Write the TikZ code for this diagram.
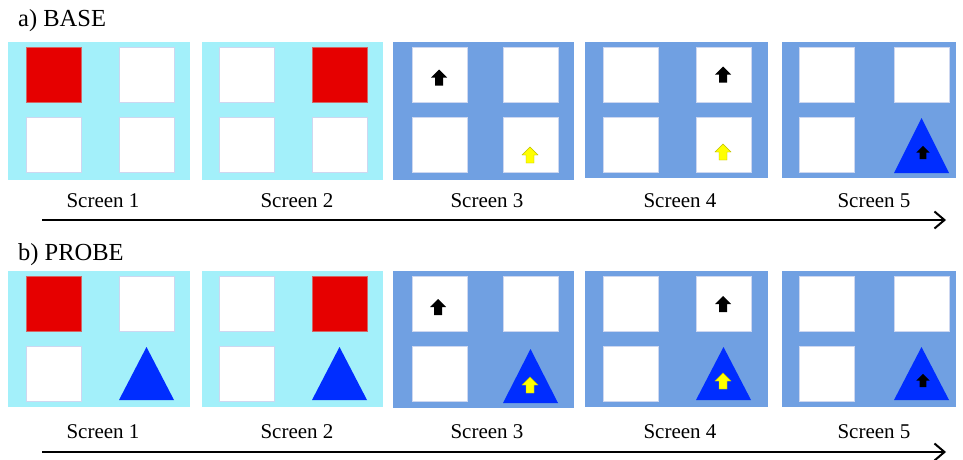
\documentclass[tikz,border=0pt]{standalone}
\usepackage{fontspec}
\setmainfont{Liberation Serif}
\usetikzlibrary{arrows.meta}
\definecolor{cyanbg}{RGB}{163,240,250}
\definecolor{bluebg}{RGB}{112,160,226}
\definecolor{redsq}{RGB}{230,0,0}
\definecolor{tricol}{RGB}{0,45,255}
\definecolor{yel}{RGB}{255,255,0}
\definecolor{sqedge}{RGB}{205,215,240}
\newcommand\mycard[4]{\node[#1] (#2) at (#3,#4) {};}
\begin{document}
\begin{tikzpicture}[x=1pt,y=-1pt,
  panel/.style={anchor=north west, inner sep=0pt, outer sep=0pt, draw=none},
  panelA/.style={panel, fill=cyanbg},
  panelB/.style={panel, fill=bluebg},
  card/.style={anchor=north west, inner sep=0pt, outer sep=0pt, minimum width=55pt, minimum height=55pt, fill=white, draw=sqedge, line width=0.6pt},
  redcard/.style={card, fill=redsq, draw=redsq!80!black!60},
  tri/.style={fill=tricol},
  title/.style={font=\fontsize{24.5}{28}\selectfont, anchor=base west, inner sep=0pt},
  lab/.style={font=\fontsize{21}{25}\selectfont, anchor=base, inner sep=0pt},
  timeline/.style={line width=2.8pt, -{Straight Barb[length=10pt,width=17pt,line width=2pt]}},
  blackarr/.style={fill=black},
  yelarr/.style={fill=yel, draw=yel!75!black, line width=0.4pt},
  uparr/.pic={\path[pic actions] (0,-8) -- (8,0) -- (4,0) -- (4,8) -- (-4,8) -- (-4,0) -- (-8,0) -- cycle;}
]
\useasboundingbox[fill=white] (0,0) rectangle (963,460);

% titles
\node[title] (ta) at (18,27) {a) BASE};
\node[title] (tb) at (18,260) {b) PROBE};

% ---------- row a panels
\node[panelA, minimum width=182pt, minimum height=138pt] (a1) at (8,42) {};
\node[panelA, minimum width=181pt, minimum height=138pt] (a2) at (202,42) {};
\node[panelB, minimum width=181pt, minimum height=138pt] (a3) at (393,42) {};
\node[panelB, minimum width=183pt, minimum height=136pt] (a4) at (585,42) {};
\node[panelB, minimum width=174pt, minimum height=136pt] (a5) at (782,42) {};

% ---------- row b panels
\node[panelA, minimum width=182pt, minimum height=136pt] (b1) at (8,271) {};
\node[panelA, minimum width=181pt, minimum height=136pt] (b2) at (202,271) {};
\node[panelB, minimum width=181pt, minimum height=137pt] (b3) at (393,271) {};
\node[panelB, minimum width=183pt, minimum height=136pt] (b4) at (585,271) {};
\node[panelB, minimum width=174pt, minimum height=136pt] (b5) at (782,271) {};

% ---------- row a squares
\mycard{redcard}{a1tl}{26}{47}  \mycard{card}{a1tr}{119}{47}
\mycard{card}{a1bl}{26}{117}    \mycard{card}{a1br}{119}{117}
\mycard{card}{a2tl}{219}{47}    \mycard{redcard}{a2tr}{312}{47}
\mycard{card}{a2bl}{219}{117}   \mycard{card}{a2br}{312}{117}
\mycard{card}{a3tl}{412}{47}    \mycard{card}{a3tr}{503}{47}
\mycard{card}{a3bl}{412}{117}   \mycard{card}{a3br}{503}{117}
\mycard{card}{a4tl}{603}{47}    \mycard{card}{a4tr}{696}{47}
\mycard{card}{a4bl}{603}{117}   \mycard{card}{a4br}{696}{117}
\mycard{card}{a5tl}{799}{47}    \mycard{card}{a5tr}{894}{47}
\mycard{card}{a5bl}{799}{117}
\fill[tri] (894,173) -- (949,173) -- (921.5,118) -- cycle;

% ---------- row b squares
\mycard{redcard}{b1tl}{26}{276}  \mycard{card}{b1tr}{119}{276}
\mycard{card}{b1bl}{26}{346}
\mycard{card}{b2tl}{219}{276}    \mycard{redcard}{b2tr}{312}{276}
\mycard{card}{b2bl}{219}{346}
\mycard{card}{b3tl}{412}{276}    \mycard{card}{b3tr}{503}{276}
\mycard{card}{b3bl}{412}{346}
\mycard{card}{b4tl}{603}{276}    \mycard{card}{b4tr}{696}{276}
\mycard{card}{b4bl}{603}{346}
\mycard{card}{b5tl}{799}{276}    \mycard{card}{b5tr}{894}{276}
\mycard{card}{b5bl}{799}{346}
\fill[tri] (119,400) -- (174,400) -- (146.5,347) -- cycle;
\fill[tri] (312,400) -- (367,400) -- (339.5,347) -- cycle;
\fill[tri] (503,403) -- (558,403) -- (530.5,349) -- cycle;
\fill[tri] (696,400) -- (751,400) -- (723.5,347) -- cycle;
\fill[tri] (894,400) -- (949,400) -- (921.5,347) -- cycle;

% ---------- arrows (cues)
\pic[blackarr] at (439,77.5) {uparr};
\pic[yelarr] at (530,155) {uparr};
\pic[blackarr] at (723,74.5) {uparr};
\pic[yelarr] at (723,152) {uparr};
\pic[blackarr, scale=0.82] at (923,152.5) {uparr};

\pic[blackarr] at (438,307) {uparr};
\pic[yelarr] at (530,385) {uparr};
\pic[blackarr] at (723,304) {uparr};
\pic[yelarr] at (723,381) {uparr};
\pic[blackarr, scale=0.82] at (923,380.5) {uparr};

% ---------- labels
\node[lab] (la1) at (103,207) {Screen 1};
\node[lab] (la2) at (297,207) {Screen 2};
\node[lab] (la3) at (487,207) {Screen 3};
\node[lab] (la4) at (680,207) {Screen 4};
\node[lab] (la5) at (874,207) {Screen 5};
\node[lab] (lb1) at (103,438) {Screen 1};
\node[lab] (lb2) at (297,438) {Screen 2};
\node[lab] (lb3) at (487,438) {Screen 3};
\node[lab] (lb4) at (680,438) {Screen 4};
\node[lab] (lb5) at (874,438) {Screen 5};

% ---------- timelines
\coordinate (ta0) at (42,220);
\coordinate (ta1) at (946,220);
\coordinate (tb0) at (42,452);
\coordinate (tb1) at (946,452);
\draw[timeline] (ta0) -- (ta1);
\draw[timeline] (tb0) -- (tb1);
\end{tikzpicture}
\end{document}
